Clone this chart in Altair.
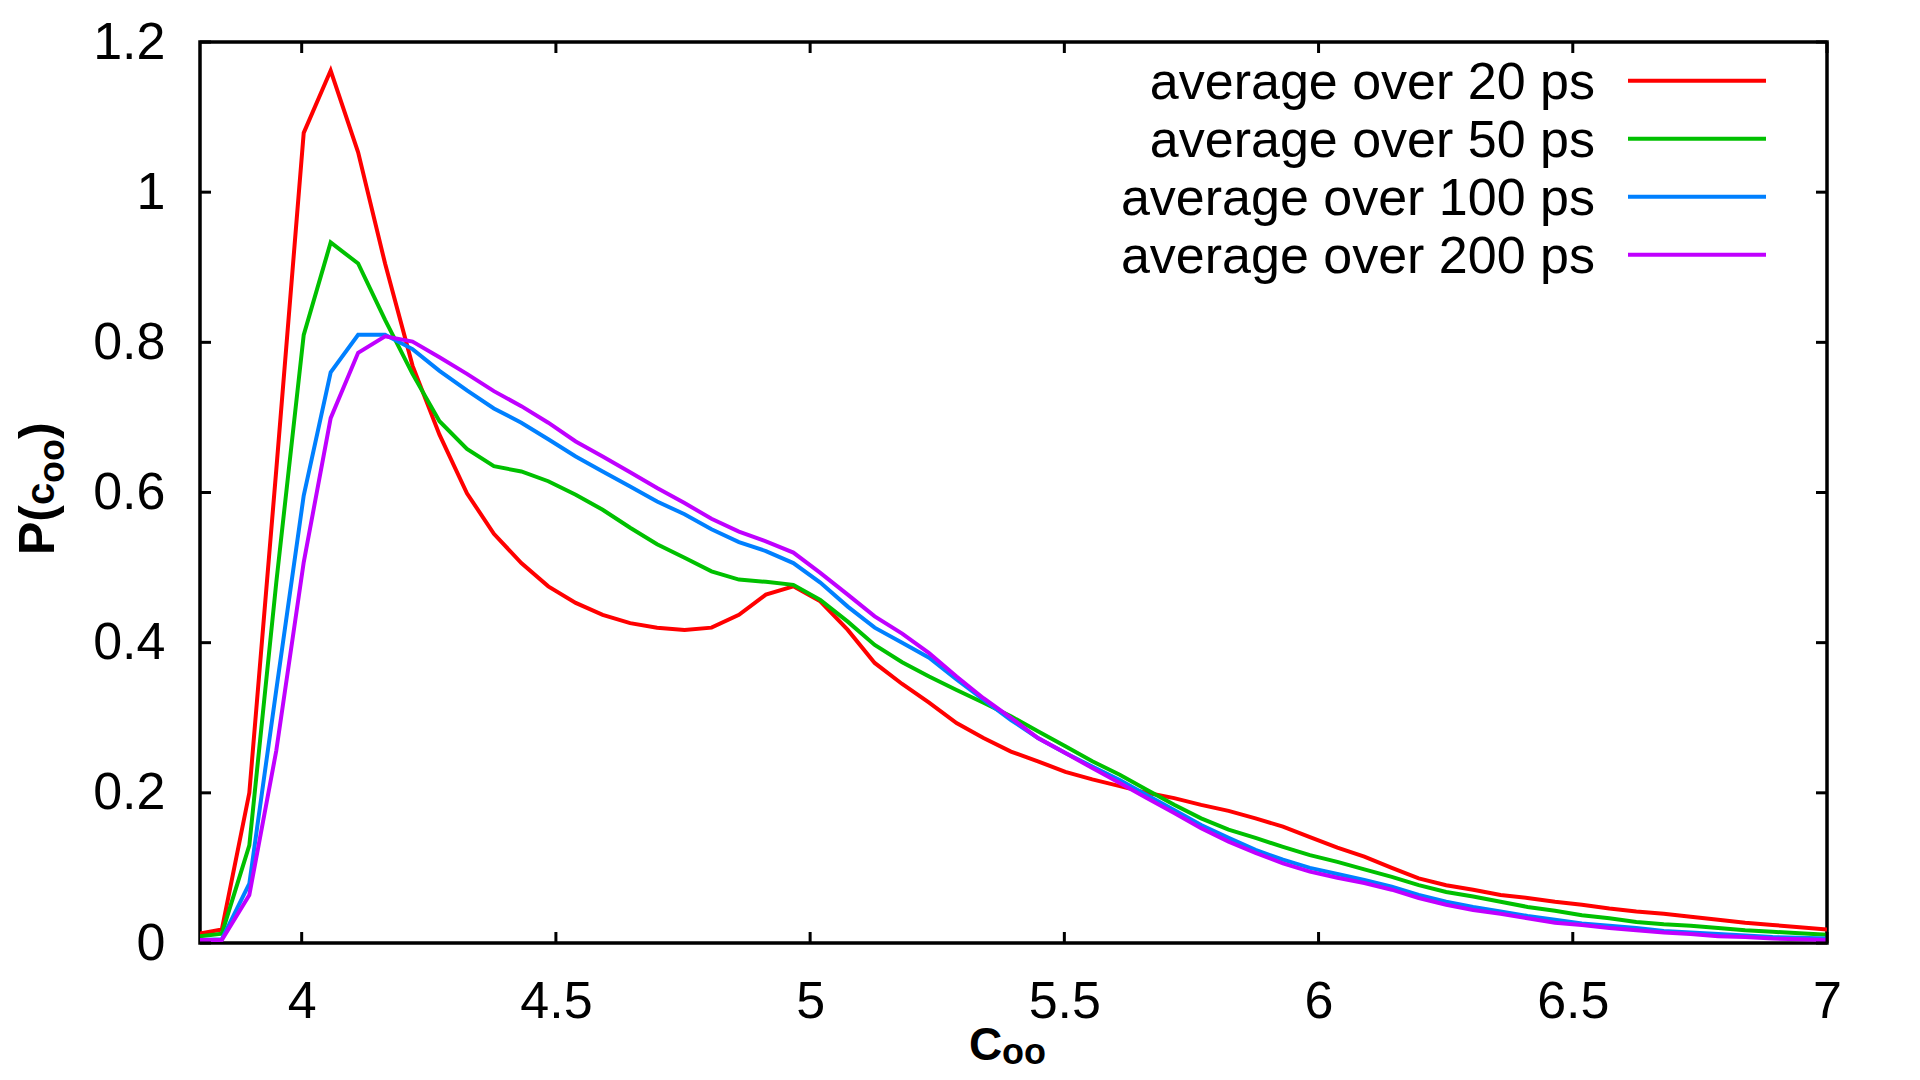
import altair as alt
import pandas as pd

# ---- data ----
c_vals = [3.800, 3.843, 3.897, 3.950, 4.004, 4.057, 4.111, 4.164, 4.218, 4.271,
          4.325, 4.378, 4.432, 4.485, 4.539, 4.592, 4.646, 4.699, 4.753, 4.806,
          4.860, 4.913, 4.967, 5.020, 5.074, 5.127, 5.181, 5.234, 5.288, 5.341,
          5.395, 5.448, 5.502, 5.555, 5.609, 5.662, 5.716, 5.769, 5.823, 5.876,
          5.930, 5.983, 6.037, 6.090, 6.144, 6.197, 6.251, 6.304, 6.358, 6.411,
          6.465, 6.518, 6.572, 6.625, 6.679, 6.732, 6.786, 6.839, 6.893, 6.946,
          7.000]

p_20 = [0.0125, 0.018, 0.20, 0.63, 1.079, 1.162, 1.053, 0.905, 0.769, 0.677,
        0.599, 0.545, 0.506, 0.475, 0.453, 0.437, 0.426, 0.420, 0.417, 0.420,
        0.437, 0.464, 0.475, 0.455, 0.417, 0.373, 0.345, 0.320, 0.293, 0.273,
        0.255, 0.242, 0.228, 0.218, 0.209, 0.200, 0.193, 0.184, 0.176, 0.166,
        0.155, 0.141, 0.127, 0.115, 0.100, 0.086, 0.077, 0.071, 0.064, 0.060,
        0.055, 0.051, 0.046, 0.042, 0.039, 0.035, 0.031, 0.027, 0.024, 0.021,
        0.018]

p_50 = [0.009, 0.0125, 0.13, 0.48, 0.81, 0.933, 0.905, 0.83, 0.758, 0.695,
        0.658, 0.635, 0.628, 0.615, 0.597, 0.577, 0.553, 0.531, 0.513, 0.495,
        0.484, 0.481, 0.477, 0.457, 0.428, 0.397, 0.374, 0.355, 0.337, 0.320,
        0.302, 0.282, 0.262, 0.242, 0.224, 0.204, 0.184, 0.166, 0.151, 0.140,
        0.128, 0.117, 0.108, 0.098, 0.088, 0.077, 0.068, 0.062, 0.055, 0.048,
        0.043, 0.037, 0.033, 0.028, 0.025, 0.023, 0.020, 0.017, 0.015, 0.013,
        0.011]

p_100 = [0.004, 0.005, 0.079, 0.337, 0.596, 0.76, 0.81, 0.81, 0.791, 0.762,
         0.736, 0.712, 0.693, 0.671, 0.648, 0.628, 0.608, 0.588, 0.571, 0.551,
         0.534, 0.522, 0.506, 0.480, 0.448, 0.420, 0.400, 0.380, 0.351, 0.324,
         0.297, 0.273, 0.253, 0.235, 0.217, 0.197, 0.177, 0.157, 0.140, 0.124,
         0.111, 0.100, 0.092, 0.084, 0.075, 0.064, 0.055, 0.048, 0.042, 0.036,
         0.031, 0.026, 0.023, 0.020, 0.016, 0.014, 0.012, 0.010, 0.008, 0.007,
         0.006]

p_200 = [0.004, 0.004, 0.064, 0.256, 0.507, 0.699, 0.786, 0.808, 0.801, 0.780,
         0.758, 0.735, 0.715, 0.693, 0.668, 0.648, 0.627, 0.606, 0.586, 0.565,
         0.548, 0.535, 0.520, 0.493, 0.464, 0.435, 0.412, 0.386, 0.355, 0.326,
         0.300, 0.273, 0.253, 0.233, 0.213, 0.193, 0.173, 0.153, 0.135, 0.120,
         0.106, 0.095, 0.087, 0.080, 0.071, 0.060, 0.051, 0.044, 0.039, 0.033,
         0.027, 0.024, 0.020, 0.017, 0.014, 0.012, 0.009, 0.008, 0.006, 0.005,
         0.004]

series_labels = ["average over 20 ps", "average over 50 ps",
                 "average over 100 ps", "average over 200 ps"]
series_colors = ["#ff0000", "#00c000", "#0080ff", "#c000ff"]
series_values = [p_20, p_50, p_100, p_200]

x_ticks = [4, 4.5, 5, 5.5, 6, 6.5, 7]
y_ticks = [0, 0.2, 0.4, 0.6, 0.8, 1, 1.2]

# ---- layout (pixels) ----
W, H = 1627, 901
FONT = "Liberation Sans"
TICK = 11

rows = []
for lab, vals in zip(series_labels, series_values):
    for i, (c, p) in enumerate(zip(c_vals, vals)):
        rows.append({"c": c, "P": p, "series": lab, "idx": i})
df = pd.DataFrame(rows)

xscale = alt.Scale(domain=[3.8, 7], nice=False, zero=False)
yscale = alt.Scale(domain=[0, 1.2], nice=False, zero=False)
xaxis = alt.Axis(values=x_ticks, format="~g", ticks=False, tickSize=0, domain=False,
                 grid=False, labelPadding=33, title="", labelFlush=False,
                 labelOverlap=False, labelFont=FONT, labelFontSize=52,
                 labelColor="black")
yaxis = alt.Axis(values=y_ticks, format="~g", ticks=False, tickSize=0, domain=False,
                 grid=False, labelPadding=35, title="", labelFlush=False,
                 labelOverlap=False, labelFont=FONT, labelFontSize=52,
                 labelColor="black", labelBaseline="middle")

lines = alt.Chart(df).mark_line(strokeWidth=4, clip=True).encode(
    x=alt.X("c:Q", scale=xscale, axis=xaxis),
    y=alt.Y("P:Q", scale=yscale, axis=yaxis),
    color=alt.Color("series:N", scale=alt.Scale(domain=series_labels, range=series_colors),
                    legend=None),
    order=alt.Order("idx:Q"),
)

xt = pd.DataFrame({"c": x_ticks})
yt = pd.DataFrame({"P": y_ticks})
tick_layers = [
    alt.Chart(xt).mark_rule(color="black", strokeWidth=3).encode(
        x=alt.X("c:Q", scale=xscale, axis=xaxis), y=alt.value(H - TICK), y2=alt.value(H)),
    alt.Chart(xt).mark_rule(color="black", strokeWidth=3).encode(
        x=alt.X("c:Q", scale=xscale, axis=xaxis), y=alt.value(0), y2=alt.value(TICK)),
    alt.Chart(yt).mark_rule(color="black", strokeWidth=3).encode(
        y=alt.Y("P:Q", scale=yscale, axis=yaxis), x=alt.value(0), x2=alt.value(TICK)),
    alt.Chart(yt).mark_rule(color="black", strokeWidth=3).encode(
        y=alt.Y("P:Q", scale=yscale, axis=yaxis), x=alt.value(W - TICK), x2=alt.value(W)),
]

one = alt.Data(values=[{"k": 0}])

def txt(s, x, y, size, bold=False, angle=0, align="left"):
    kw = dict(text=s, font=FONT, fontSize=size, color="black", align=align,
              baseline="alphabetic")
    if bold:
        kw["fontWeight"] = "bold"
    if angle:
        kw["angle"] = angle
    return alt.Chart(one).mark_text(**kw).encode(x=alt.value(x), y=alt.value(y))

# legend (text right-aligned, sample line to the right)
legend_layers = []
row_y = [38.7, 96.7, 154.7, 212.7]
for lab, col, ry in zip(series_labels, series_colors, row_y):
    legend_layers.append(txt(lab, 1395, ry + 18.5, 52, align="right"))
    legend_layers.append(
        alt.Chart(one).mark_rule(color=col, strokeWidth=4).encode(
            x=alt.value(1428), x2=alt.value(1566), y=alt.value(ry)))

# axis titles with subscripts
title_layers = [
    txt("C", 769, 1018, 46, bold=True),
    txt("oo", 802, 1022, 36, bold=True),
    txt("P(", -146, 513, 50, bold=True, angle=270),
    txt("c", -146, 463, 40, bold=True, angle=270),
    txt("oo", -136, 441, 36, bold=True, angle=270),
    txt(")", -146, 397, 50, bold=True, angle=270),
]

chart = alt.layer(lines, *tick_layers, *legend_layers, *title_layers).properties(
    width=W, height=H,
    autosize=alt.AutoSizeParams(type="none"),
    padding={"left": 192, "top": 34, "right": 40, "bottom": 129},
    background="white",
).configure_view(stroke="black", strokeWidth=3.5)

chart.save("out.html", embed_options={"renderer": "svg", "actions": False})
